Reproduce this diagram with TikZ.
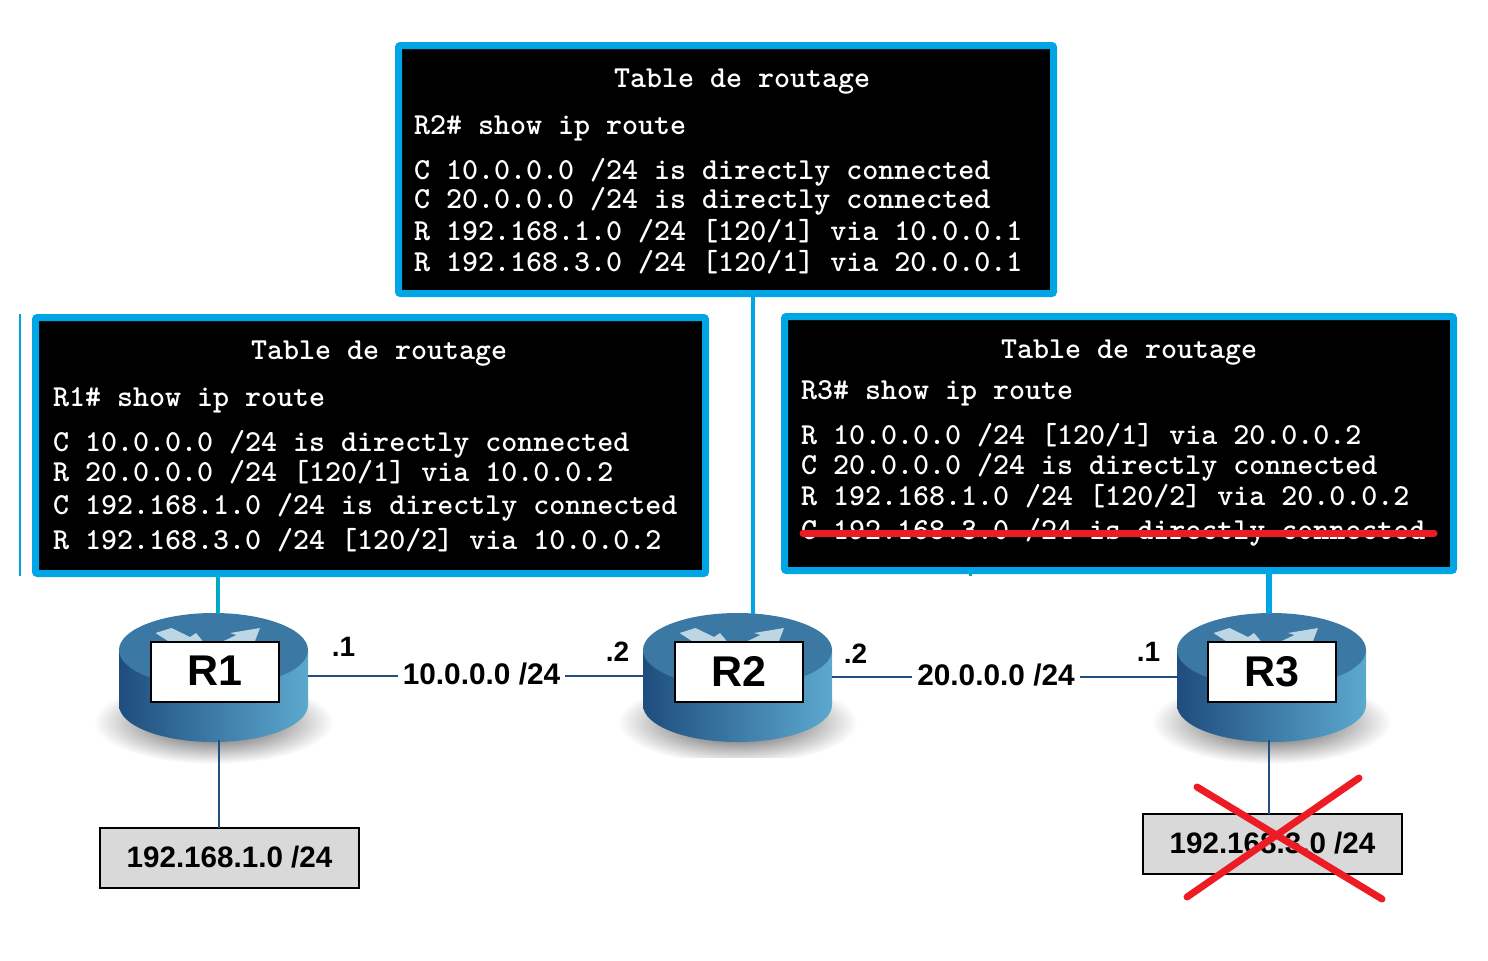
\documentclass[tikz,border=0pt]{standalone}
\usepackage{fontspec}
\newfontfamily\arialf{Liberation Sans}
\definecolor{cyanb}{HTML}{00A5E6}
\definecolor{linkb}{HTML}{1F4E7F}
\definecolor{tealg}{HTML}{00B56A}
\definecolor{redx}{HTML}{ED1C24}
\definecolor{rtop}{HTML}{3B78A3}
\definecolor{rleft}{HTML}{1E4D7E}
\definecolor{rright}{HTML}{5CA9CE}
\definecolor{rarrow}{HTML}{BDD6E4}
\definecolor{netgray}{HTML}{D9D9D9}
\tikzset{
  x=0.5pt,y=-0.5pt,
  tablebox/.style={draw=cyanb,line width=3.5pt,fill=black,rounded corners=1pt,inner sep=0pt,outer sep=0pt},
  termline/.style={anchor=base west,inner sep=0pt,outer sep=0pt,yshift=-0.5pt,text=white,font=\ttfamily\bfseries\fontsize{15.25}{16}\selectfont},
  routerlabel/.style={draw=black,line width=0.8pt,fill=white,minimum width=64pt,minimum height=30pt,inner sep=0pt,outer sep=0pt,font=\arialf\bfseries\fontsize{21.5}{24}\selectfont},
  netbox/.style={draw=black,line width=0.8pt,fill=netgray,minimum width=129.5pt,minimum height=30pt,inner sep=0pt,outer sep=0pt,font=\arialf\bfseries\fontsize{14.8}{16}\selectfont},
  linklabel/.style={inner sep=2.5pt,outer sep=0pt,font=\arialf\bfseries\fontsize{14.9}{16}\selectfont},
  hostlabel/.style={inner sep=0pt,font=\arialf\bfseries\fontsize{14}{15}\selectfont},
  linkline/.style={draw=linkb,line width=1pt},
  treeline/.style={draw=cyanb,line width=2pt},
  strike/.style={draw=redx,line width=3.5pt,line cap=round},
}
% #1 centre x, #2 shadow clip y, #3 node name, #4 label, #5 label centre x
\newcommand{\routerdraw}[5]{%
  \begin{scope}
    \clip (#1-130,690) rectangle (#1+130,#2);
    \shade[inner color=black!78,outer color=white] (#1,722) ellipse [x radius=60pt,y radius=21pt];
  \end{scope}
  \shade[left color=rleft,right color=rright] (#1-94.5,650) -- (#1-94.5,705)
     arc[start angle=180,end angle=360,x radius=47.25pt,y radius=18.5pt] -- (#1+94.5,650) -- cycle;
  \fill[rtop] (#1,650) ellipse [x radius=47.25pt,y radius=18.5pt];
  \fill[rarrow] (#1-58,633) -- (#1-42,628) -- (#1-23.5,637) -- (#1-17.5,633) -- (#1-10,642) -- (#1-44,642) -- cycle;
  \fill[rarrow] (#1+46.5,628) -- (#1+41.5,641) -- (#1+33,641) -- (#1+8,642) -- (#1+23,635) -- (#1+16.5,633) -- cycle;
  \node[routerlabel] (#3) at (#5,672) {\raisebox{1pt}{#4}};
}
\begin{document}
\begin{tikzpicture}
\useasboundingbox (0,0) rectangle (1488,960);

% routers' connection points
\coordinate (r1top) at (218.5,614);
\coordinate (r1topg) at (217,614);
\coordinate (r2top) at (752.5,614);
\coordinate (r3top) at (1269,614);
\coordinate (r1bot) at (219,740);
\coordinate (r3bot) at (1269,740);
\coordinate (r1e) at (308,676);
\coordinate (r2w) at (643,676);
\coordinate (r2e) at (832,677);
\coordinate (r3w) at (1177,677);

% stray edge left of the R1 table
\coordinate (edgeA) at (20,314);
\coordinate (edgeB) at (20,576);
\draw[draw=cyanb,line width=1pt] (edgeA) -- (edgeB);
\coordinate (stubA) at (970,572);
\coordinate (stubB) at (970,576);
\draw[draw=tealg,line width=1.5pt] (stubA) -- (stubB);

% network boxes
\node[netbox] (net1) at (229.5,858) {\raisebox{1pt}{192.168.1.0 /24}};
\node[netbox] (net3) at (1272.5,844) {\raisebox{1pt}{192.168.3.0 /24}};

% routers
\routerdraw{213.5}{770}{R1}{R1}{215}
\routerdraw{737.5}{757}{R2}{R2}{739}
\routerdraw{1271.5}{770}{R3}{R3}{1272}

% tables
\node[tablebox,minimum width=327.5pt,minimum height=124pt] (t2) at (726,169.5) {};
\node[tablebox,minimum width=335pt,minimum height=128pt] (t1) at (370.5,445.5) {};
\node[tablebox,minimum width=334.5pt,minimum height=127pt] (t3) at (1119,443.5) {};

% table-to-router connectors
\draw[treeline] (t2.south -| r2top) -- (r2top);
\draw[draw=tealg,line width=1.2pt] (t1.south -| r1topg) -- (r1topg);
\draw[draw=cyanb,line width=1.2pt] (t1.south -| r1top) -- (r1top);
\draw[draw=tealg,line width=3.2pt] (t3.south -| r3top) -- (r3top);
\draw[draw=cyanb,line width=2.6pt] (t3.south -| r3top) -- (r3top);

% network connectors
\draw[linkline] (r1bot) -- (net1.north -| r1bot);
\draw[linkline] (r3bot) -- (net3.north -| r3bot);

% links
\node[linklabel] (l10) at (481.5,674) {10.0.0.0 /24};
\node[linklabel] (l20) at (996,675) {20.0.0.0 /24};
\draw[linkline] (r1e) -- (l10.west |- r1e);
\draw[linkline] (l10.east |- r2w) -- (r2w);
\draw[linkline,line width=1.3pt] (r2e) -- (l20.west |- r2e);
\draw[linkline,line width=1.3pt] (l20.east |- r3w) -- (r3w);
\node[hostlabel] (h1) at (343.5,647) {.1};
\node[hostlabel] (h2) at (617.5,652) {.2};
\node[hostlabel] (h3) at (855.5,654) {.2};
\node[hostlabel] (h4) at (1148.5,652) {.1};

% R2 table
\node[termline] (t2a) at (614,86) {Table de routage};
\node[termline] (t2b) at (414,133) {R2\# show ip route};
\node[termline] (t2c) at (414,178) {C 10.0.0.0 /24 is directly connected};
\node[termline] (t2d) at (414,207) {C 20.0.0.0 /24 is directly connected};
\node[termline] (t2e) at (414,239) {R 192.168.1.0 /24 [120/1] via 10.0.0.1};
\node[termline] (t2f) at (414,270) {R 192.168.3.0 /24 [120/1] via 20.0.0.1};

% R1 table
\node[termline] (t1a) at (251,358) {Table de routage};
\node[termline] (t1b) at (53,405) {R1\# show ip route};
\node[termline] (t1c) at (53,450) {C 10.0.0.0 /24 is directly connected};
\node[termline] (t1d) at (53,480) {R 20.0.0.0 /24 [120/1] via 10.0.0.2};
\node[termline] (t1e) at (53,513) {C 192.168.1.0 /24 is directly connected};
\node[termline] (t1f) at (53,548) {R 192.168.3.0 /24 [120/2] via 10.0.0.2};

% R3 table
\node[termline] (t3a) at (1001,357) {Table de routage};
\node[termline] (t3b) at (801,398) {R3\# show ip route};
\node[termline] (t3c) at (801,443) {R 10.0.0.0 /24 [120/1] via 20.0.0.2};
\node[termline] (t3d) at (801,473) {C 20.0.0.0 /24 is directly connected};
\node[termline] (t3e) at (801,504) {R 192.168.1.0 /24 [120/2] via 20.0.0.2};
\node[termline] (t3f) at (801,538) {C 192.168.3.0 /24 is directly connected};

% red strikes
\coordinate (sA) at (803,533);
\coordinate (sB) at (1434,533);
\draw[strike] (sA) -- (sB);
\coordinate (xA) at (1197,787);
\coordinate (xB) at (1382,899);
\coordinate (xC) at (1359,778);
\coordinate (xD) at (1187,897);
\draw[strike] (xA) -- (xB);
\draw[strike] (xC) -- (xD);
\end{tikzpicture}
\end{document}
